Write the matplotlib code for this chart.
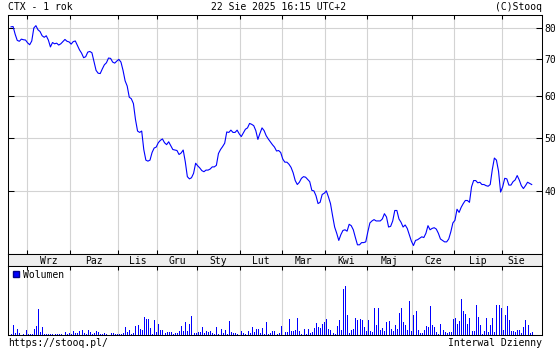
import numpy as np
import matplotlib
matplotlib.use('Agg')
import matplotlib.pyplot as plt
from matplotlib.lines import Line2D
from matplotlib.ticker import NullLocator

# CTX daily close, one value per session (22 Aug 2024 - 22 Aug 2025)
prices = [
    80.4, 80.5, 77.9, 75.9, 75.6, 76.3, 76.1, 76.0, 75.1, 74.5,
    75.7, 80.0, 80.8, 79.4, 78.8, 77.4, 76.9, 77.4, 76.0, 73.8,
    75.2, 74.8, 75.0, 74.4, 74.8, 75.5, 76.2, 75.6, 75.4, 74.7,
    75.5, 75.7, 74.3, 72.9, 71.9, 70.5, 70.8, 72.2, 72.4, 72.0,
    69.4, 66.8, 66.0, 65.9, 67.2, 68.4, 69.0, 70.4, 70.3, 69.2,
    68.9, 69.5, 70.0, 69.2, 66.8, 63.9, 62.5, 59.6, 59.2, 58.0,
    54.2, 51.6, 51.3, 51.6, 47.7, 45.6, 45.4, 45.6, 47.1, 48.0,
    48.2, 49.1, 49.6, 49.9, 49.1, 48.7, 49.3, 48.5, 47.7, 47.6,
    47.5, 46.7, 47.0, 47.6, 45.3, 42.5, 42.1, 42.3, 43.1, 45.0,
    44.5, 44.1, 43.6, 43.4, 43.7, 43.7, 43.9, 44.3, 44.3, 44.6,
    46.9, 47.7, 48.3, 49.0, 51.4, 51.3, 51.8, 51.3, 51.3, 51.8,
    51.0, 50.4, 51.2, 52.0, 52.3, 53.3, 53.1, 52.8, 51.7, 49.8,
    51.1, 52.3, 51.7, 50.6, 49.9, 49.3, 48.7, 48.2, 47.4, 47.5,
    47.1, 45.8, 45.2, 45.2, 44.8, 44.2, 43.2, 41.8, 41.1, 41.5,
    42.2, 42.5, 42.4, 42.0, 41.6, 40.1, 40.0, 39.2, 37.9, 38.1,
    39.4, 39.6, 40.0, 39.0, 37.9, 36.0, 34.3, 33.4, 32.4, 33.2,
    33.8, 33.9, 33.7, 34.7, 34.5, 33.9, 32.8, 31.8, 31.8, 32.1,
    32.1, 32.2, 33.6, 34.9, 35.2, 35.4, 35.2, 35.2, 35.2, 35.5,
    36.3, 35.8, 34.3, 34.4, 35.2, 36.8, 36.8, 35.5, 35.0, 34.3,
    34.6, 34.1, 33.2, 32.3, 31.7, 32.4, 32.5, 32.7, 32.9, 32.8,
    33.4, 34.5, 33.9, 34.1, 34.2, 34.0, 33.4, 32.6, 32.4, 32.2,
    32.2, 32.6, 33.6, 34.9, 35.3, 37.0, 36.5, 37.3, 37.9, 38.4,
    38.4, 38.1, 40.7, 41.8, 41.8, 41.4, 41.5, 41.1, 41.1, 40.9,
    40.8, 41.1, 43.8, 46.0, 45.6, 43.5, 39.8, 40.7, 42.2, 42.1,
    41.0, 41.0, 41.6, 41.9, 42.7, 41.9, 40.9, 40.4, 40.9, 41.5,
    41.3, 41.1,
]

# daily volume, relative units
volumes = [
    1.5, 10, 2, 6, 2, 0.5, 1, 5, 1, 1,
    1, 6, 9, 26, 3.5, 8, 1, 1, 1, 1.5,
    1.5, 1, 1, 1, 1, 0.5, 3, 1, 2, 1,
    4, 2, 2.5, 4, 5, 2, 1, 5, 3, 1,
    2, 4, 3, 1, 1.5, 2.5, 1, 0.5, 2, 2,
    1.5, 1, 1, 1, 2, 8, 3, 5, 1.5, 2.5,
    9, 10, 6, 5, 18, 16, 16, 7, 1, 15,
    3, 11, 5, 5, 2, 3, 3, 3, 1.5, 2,
    2, 4, 9, 4, 13, 4, 11, 19, 2, 2,
    3.5, 3, 8, 2, 4, 3, 4, 2.5, 1.5, 8,
    1, 6, 2, 5, 1.5, 14, 3, 2, 2, 1,
    0.5, 4, 2, 1, 4, 2.5, 8, 3, 6, 6,
    2, 7, 1.5, 13, 1.5, 2, 4, 4, 1,
    2, 9, 0.5, 3.5, 3.5, 16, 4, 4, 5, 17,
    4, 1.5, 6, 1, 6, 2, 3, 7, 12, 8,
    7, 11, 13, 16, 6, 5, 2, 1.5, 9, 15,
    5, 46, 49, 20, 2, 5, 6, 17, 15, 16,
    15, 8, 4, 15, 4, 3, 27, 10, 27, 5,
    7, 4, 13, 14, 6, 4, 10, 6, 22, 27,
    13, 10, 5, 34, 4, 20, 24, 5, 2, 2,
    5, 9, 8, 29, 10, 8, 3, 1, 11, 5,
    3, 2, 3, 3, 16, 17, 11, 14, 36, 24,
    21, 11, 17, 4, 4, 30, 18, 10, 1.5, 4,
    17, 3, 10, 17, 3, 30, 30, 27, 5, 20,
    29, 15, 4, 4, 3, 5, 5, 2, 8, 15,
    10, 2, 3,
]

# session index where each month starts (grid lines)
month_edges = [7.5, 28.5, 51.5, 70.5, 89.5, 110.5, 130.5, 151.5, 171.5, 193.5, 213.5, 236.5]
month_labels = ['Wrz', 'Paz', 'Lis', 'Gru', 'Sty', 'Lut', 'Mar', 'Kwi', 'Maj', 'Cze', 'Lip', 'Sie']
price_ticks = [40, 50, 60, 70, 80]

plt.rcParams['font.family'] = 'DejaVu Sans Mono'
plt.rcParams['font.size'] = 7

W, H = 560, 350
fig = plt.figure(figsize=(W / 100, H / 100), dpi=100)


def box(l, t, r, b):
    return [l / W, 1 - b / H, (r - l) / W, (b - t) / H]


x = np.arange(len(prices))
xlim = (-1.45, 255.96)
grid_col = '#d3d3d3'

# price panel
ax = fig.add_axes(box(8, 15, 542, 254))
ax.plot(x, prices, color='#0000ff', lw=0.8)
ax.set_yscale('log')
ax.set_ylim(30.58, 84.55)
ax.set_xlim(xlim)
ax.yaxis.set_minor_locator(NullLocator())
ax.set_yticks(price_ticks)
ax.set_yticklabels([str(t) for t in price_ticks])
ax.tick_params(axis='y', which='both', direction='in', length=4, width=0.75,
               left=True, right=True, labelleft=False, labelright=True, pad=2)
ax.set_xticks(month_edges)
ax.tick_params(axis='x', direction='in', length=3, width=0.75,
               top=True, bottom=True, labelbottom=False)
ax.grid(True, color=grid_col, lw=0.8)
ax.set_axisbelow(True)

# month band
band = fig.add_axes(box(8, 254, 542, 266))
band.set_facecolor('#eeeeee')
band.set_xlim(xlim)
band.set_ylim(0, 1)
band.set_xticks([])
band.set_yticks([])
edges = month_edges + [x[-1]]
for i, lab in enumerate(month_labels):
    band.text((edges[i] + edges[i + 1]) / 2, 0.45, lab, ha='center', va='center')

# volume panel
axv = fig.add_axes(box(8, 266, 542, 335))
axv.vlines(x, 0, volumes, colors='#0000ff', lw=0.65, antialiased=False)
axv.set_xlim(xlim)
axv.set_ylim(0, 69)
axv.set_yticks([])
axv.set_xticks(month_edges)
axv.tick_params(axis='x', direction='in', length=3, width=0.75,
                top=True, bottom=False, labelbottom=False)
axv.grid(True, axis='x', color=grid_col, lw=0.8)
axv.set_axisbelow(True)
axv.legend(handles=[Line2D([], [], marker='s', ls='none', color='#0000ff',
                           mec='#00008b', markersize=5, label='Wolumen')],
           loc='upper left', frameon=False, handlelength=0.8, handletextpad=0.3,
           borderaxespad=0.2, borderpad=0.2)

for a in (ax, band, axv):
    for s in a.spines.values():
        s.set_linewidth(0.75)
        s.set_color('black')

fig.text(8 / W, 1 - 7.5 / H, 'CTX - 1 rok', ha='left', va='center')
fig.text(279 / W, 1 - 7.5 / H, '22 Sie 2025 16:15 UTC+2', ha='center', va='center')
fig.text(542 / W, 1 - 7.5 / H, '(C)Stooq', ha='right', va='center')
fig.text(8 / W, 1 - 343.5 / H, 'https://stooq.pl/', ha='left', va='center')
fig.text(542 / W, 1 - 343.5 / H, 'Interwal Dzienny', ha='right', va='center')

fig.savefig('out.png', dpi=100, facecolor='white')
